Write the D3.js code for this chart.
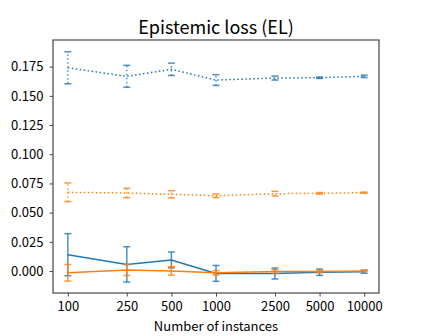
<!DOCTYPE html>
<html>
<head>
<meta charset="utf-8">
<script src="https://cdn.jsdelivr.net/npm/d3@7"></script>
<style>
  body { margin: 0; background: #fff; }
  text { font-family: "Noto Sans CJK JP", "Noto Sans", sans-serif; fill: #000; }
</style>
</head>
<body>
<div id="chart"></div>
<script>
// values
var instances = [100, 250, 500, 1000, 2500, 5000, 10000];
var xTicks = ["100", "250", "500", "1000", "2500", "5000", "10000"];
var yTicks = [0.000, 0.025, 0.050, 0.075, 0.100, 0.125, 0.150, 0.175];

var blueDotMean = [0.1740, 0.1667, 0.1727, 0.1635, 0.1652, 0.1655, 0.1667];
var blueDotErr  = [0.0137, 0.0094, 0.0053, 0.0046, 0.0017, 0.0006, 0.0010];
var orangeDotMean = [0.0674, 0.0668, 0.0657, 0.0645, 0.0662, 0.0665, 0.0671];
var orangeDotErr  = [0.0080, 0.0040, 0.0031, 0.0015, 0.0020, 0.0007, 0.0005];
var blueMean = [0.0140, 0.0057, 0.0095, -0.0020, -0.0021, -0.0010, -0.0006];
var blueErr  = [0.0180, 0.0151, 0.0068, 0.0068, 0.0047, 0.0027, 0.0013];
var orangeMean = [-0.0015, 0.0008, 0.0001, -0.0015, -0.0003, -0.0004, 0.0001];
var orangeErr  = [0.0071, 0.0046, 0.0036, 0.0019, 0.0015, 0.0010, 0.0007];

var series = [
  {mean: blueDotMean, err: blueDotErr, color: "#1f77b4", dotted: true},
  {mean: orangeDotMean, err: orangeDotErr, color: "#ff7f0e", dotted: true},
  {mean: blueMean, err: blueErr, color: "#1f77b4", dotted: false},
  {mean: orangeMean, err: orangeErr, color: "#ff7f0e", dotted: false}
];

var width = 421, height = 336;
var margin = {left: 53, right: 42, top: 40, bottom: 43};

var svg = d3.select('#chart')
    .append('svg')
    .attr('width', width)
    .attr('height', height);

var x = d3.scaleLog()
    .domain([100 / Math.pow(10, 0.1), 10000 * Math.pow(10, 0.1)])
    .range([margin.left, width - margin.right]);

var y = d3.scaleLinear()
    .domain([-0.0188, 0.1978])
    .range([height - margin.bottom, margin.top]);

// series
var line = d3.line()
    .x((d, i) => x(instances[i]))
    .y((d) => y(d));

series.forEach(function (s) {
    var g = svg.append('g');
    var dash = s.dotted ? "1.5,2.5" : null;
    // error bars
    g.selectAll('line.err')
        .data(s.mean)
        .enter()
        .append('line')
        .attr('x1', (d, i) => x(instances[i]))
        .attr('x2', (d, i) => x(instances[i]))
        .attr('y1', (d, i) => y(d - s.err[i]))
        .attr('y2', (d, i) => y(d + s.err[i]))
        .attr('stroke', s.color)
        .attr('stroke-width', 1.5)
        .attr('stroke-dasharray', dash)
        .attr('opacity', 0.8);
    [-1, 1].forEach(function (sign) {
        g.selectAll('line.cap' + sign)
            .data(s.mean)
            .enter()
            .append('line')
            .attr('x1', (d, i) => x(instances[i]) - 3.5)
            .attr('x2', (d, i) => x(instances[i]) + 3.5)
            .attr('y1', (d, i) => y(d + sign * s.err[i]))
            .attr('y2', (d, i) => y(d + sign * s.err[i]))
            .attr('stroke', s.color)
            .attr('stroke-width', 1.5)
            .attr('opacity', 0.8);
    });
    g.append('path')
        .datum(s.mean)
        .attr('d', line)
        .attr('fill', 'none')
        .attr('stroke', s.color)
        .attr('stroke-width', 1.5)
        .attr('stroke-dasharray', dash);
});

// axes
var xAxis = d3.axisBottom(x)
    .tickValues(instances)
    .tickFormat((d, i) => xTicks[i])
    .tickSize(3.5)
    .tickPadding(5.5);
var gx = svg.append('g')
    .attr('transform', 'translate(0,' + (height - margin.bottom) + ')')
    .call(xAxis);

var yAxis = d3.axisLeft(y)
    .tickValues(yTicks)
    .tickFormat(d3.format('.3f'))
    .tickSize(3.5)
    .tickPadding(6);
var gy = svg.append('g')
    .attr('transform', 'translate(' + margin.left + ',0)')
    .call(yAxis);

[gx, gy].forEach(function (g) {
    g.select('.domain').remove();
    g.selectAll('.tick line').attr('stroke', '#333').attr('stroke-width', 0.9);
    g.selectAll('.tick text').style('font-size', '13px').attr('fill', '#000');
});

// frame
svg.append('rect')
    .attr('x', margin.left)
    .attr('y', margin.top)
    .attr('width', width - margin.left - margin.right)
    .attr('height', height - margin.top - margin.bottom)
    .attr('fill', 'none')
    .attr('stroke', '#444')
    .attr('stroke-width', 1.2);

// labels
svg.append('text')
    .attr('x', (margin.left + width - margin.right) / 2)
    .attr('y', 34)
    .attr('text-anchor', 'middle')
    .style('font-size', '18px')
    .text('Epistemic loss (EL)');

svg.append('text')
    .attr('x', (margin.left + width - margin.right) / 2)
    .attr('y', 330.5)
    .attr('text-anchor', 'middle')
    .style('font-size', '13px')
    .text('Number of instances');
</script>
</body>
</html>
